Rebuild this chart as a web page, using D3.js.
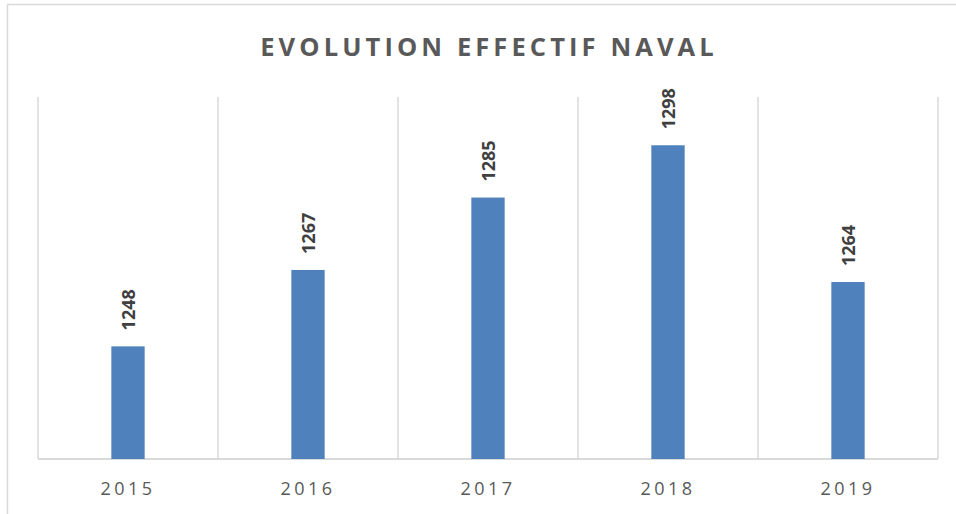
<!DOCTYPE html>
<html>
<head>
<meta charset="utf-8">
<script src="https://cdn.jsdelivr.net/npm/d3@7"></script>
<style>
  html, body { margin: 0; padding: 0; background: #fff; }
  svg { display: block; }
</style>
</head>
<body>
<svg id="chart" width="956" height="514"></svg>
<script>
const categories = ["2015", "2016", "2017", "2018", "2019"];
const values = [1248, 1267, 1285, 1298, 1264];
const yDomain = [1220, 1310];
const title = "EVOLUTION EFFECTIF NAVAL";

const W = 956, H = 514;
const margin = { left: 38, right: 18, top: 97, bottom: 55 };
const svg = d3.select("#chart");

// outer frame
svg.append("path")
  .attr("d", `M7.5,${H + 5} L7.5,4.5 L${W + 5},4.5`)
  .attr("fill", "none").attr("stroke", "#d9d9d9").attr("stroke-width", 1.5);

const x = d3.scaleBand().domain(categories)
  .range([margin.left, W - margin.right]).padding(0);
const y = d3.scaleLinear().domain(yDomain)
  .range([H - margin.bottom, margin.top]);

// vertical gridlines at category boundaries
const edges = categories.map(c => x(c)).concat([x.range()[1]]);
svg.append("g").selectAll("line").data(edges).join("line")
  .attr("x1", d => d).attr("x2", d => d)
  .attr("y1", y.range()[1]).attr("y2", y.range()[0])
  .attr("stroke", "#d9d9d9").attr("stroke-width", 1.5);

// baseline
svg.append("line")
  .attr("x1", x.range()[0]).attr("x2", x.range()[1])
  .attr("y1", y.range()[0]).attr("y2", y.range()[0])
  .attr("stroke", "#d9d9d9").attr("stroke-width", 1.8);

const barRatio = 1 / 5.4;
const bw = x.bandwidth() * barRatio;

svg.append("g").selectAll("rect").data(values).join("rect")
  .attr("x", (d, i) => x(categories[i]) + (x.bandwidth() - bw) / 2)
  .attr("width", bw)
  .attr("y", d => y(d))
  .attr("height", d => y(yDomain[0]) - y(d))
  .attr("fill", "#4f81bd");

// data labels (rotated)
svg.append("g").selectAll("text").data(values).join("text")
  .attr("transform", (d, i) => `translate(${x(categories[i]) + x.bandwidth() / 2 + 7},${y(d) - 16}) rotate(-90)`)
  .attr("text-anchor", "start")
  .attr("font-family", "'Open Sans', sans-serif")
  .attr("font-weight", "bold")
  .attr("font-size", 18)
  .attr("fill", "#404040")
  .text(d => d);

// category axis labels
svg.append("g").selectAll("text").data(categories).join("text")
  .attr("x", d => x(d) + x.bandwidth() / 2)
  .attr("y", 495)
  .attr("text-anchor", "middle")
  .attr("font-family", "'Open Sans', sans-serif")
  .attr("font-size", 18)
  .attr("letter-spacing", "3.5px")
  .attr("fill", "#595959")
  .text(d => d);

// title
svg.append("text")
  .attr("x", 489).attr("y", 56)
  .attr("text-anchor", "middle")
  .attr("font-family", "'Open Sans', sans-serif")
  .attr("font-weight", "bold")
  .attr("font-size", 25.5)
  .attr("letter-spacing", "4.1px")
  .attr("fill", "#595959")
  .text(title);
</script>
</body>
</html>
